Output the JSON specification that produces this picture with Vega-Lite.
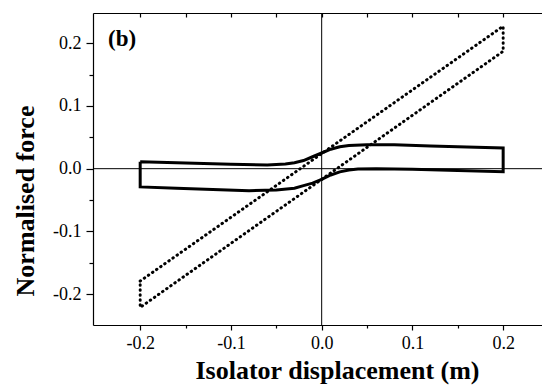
{
  "$schema": "https://vega.github.io/schema/vega-lite/v6.json",
  "width": 449,
  "height": 312,
  "autosize": {"type": "none"},
  "padding": {"left": 93, "top": 13, "right": 0, "bottom": 67},
  "background": "white",
  "config": {
    "view": {"stroke": null},
    "axis": {
      "domainColor": "black",
      "tickColor": "black",
      "labelColor": "black",
      "titleColor": "black",
      "labelFont": "Liberation Serif",
      "titleFont": "Liberation Serif",
      "labelFontSize": 18,
      "titleFontSize": 26,
      "titleFontWeight": "bold",
      "grid": false,
      "domainWidth": 1.2,
      "tickWidth": 1.2
    }
  },
  "datasets": {
    "one": [{"k": 1}],
    "solid": [
      {"i": 1, "x": -0.2, "y": 0.011},
      {"i": 2, "x": -0.15, "y": 0.009},
      {"i": 3, "x": -0.1, "y": 0.007},
      {"i": 4, "x": -0.06, "y": 0.006},
      {"i": 5, "x": -0.04, "y": 0.0075},
      {"i": 6, "x": -0.03, "y": 0.0095},
      {"i": 7, "x": -0.02, "y": 0.013},
      {"i": 8, "x": -0.01, "y": 0.019},
      {"i": 9, "x": 0.0, "y": 0.025},
      {"i": 10, "x": 0.01, "y": 0.031},
      {"i": 11, "x": 0.02, "y": 0.035},
      {"i": 12, "x": 0.03, "y": 0.037},
      {"i": 13, "x": 0.05, "y": 0.038},
      {"i": 14, "x": 0.08, "y": 0.038},
      {"i": 15, "x": 0.12, "y": 0.036},
      {"i": 16, "x": 0.16, "y": 0.0345},
      {"i": 17, "x": 0.2, "y": 0.033},
      {"i": 18, "x": 0.2, "y": -0.005},
      {"i": 19, "x": 0.15, "y": -0.003},
      {"i": 20, "x": 0.1, "y": -0.001},
      {"i": 21, "x": 0.06, "y": 0.0},
      {"i": 22, "x": 0.04, "y": -0.0005},
      {"i": 23, "x": 0.03, "y": -0.002},
      {"i": 24, "x": 0.02, "y": -0.005},
      {"i": 25, "x": 0.01, "y": -0.01},
      {"i": 26, "x": 0.0, "y": -0.017},
      {"i": 27, "x": -0.01, "y": -0.023},
      {"i": 28, "x": -0.02, "y": -0.027},
      {"i": 29, "x": -0.03, "y": -0.031},
      {"i": 30, "x": -0.05, "y": -0.034},
      {"i": 31, "x": -0.08, "y": -0.035},
      {"i": 32, "x": -0.12, "y": -0.033},
      {"i": 33, "x": -0.16, "y": -0.031},
      {"i": 34, "x": -0.2, "y": -0.029},
      {"i": 35, "x": -0.2, "y": 0.011}
    ],
    "dotted": [
      {"i": 1, "x": -0.2, "y": -0.179},
      {"i": 2, "x": 0.2, "y": 0.227},
      {"i": 3, "x": 0.2, "y": 0.187},
      {"i": 4, "x": -0.2, "y": -0.221},
      {"i": 5, "x": -0.2, "y": -0.179}
    ]
  },
  "layer": [
    {
      "data": {"name": "one"},
      "mark": {"type": "rule", "color": "black", "strokeWidth": 1},
      "encoding": {
        "x": {
          "datum": 0,
          "type": "quantitative",
          "scale": {"domain": [-0.252, 0.2428], "nice": false, "zero": false},
          "axis": {
            "orient": "top",
            "values": [-0.2, -0.15, -0.1, -0.05, 0, 0.05, 0.1, 0.15, 0.2],
            "labels": false,
            "tickSize": -4,
            "title": null
          }
        }
      }
    },
    {
      "data": {"name": "one"},
      "mark": {"type": "rule", "color": "black", "strokeWidth": 1},
      "encoding": {
        "y": {
          "datum": 0,
          "type": "quantitative",
          "scale": {"domain": [-0.249, 0.248], "nice": false, "zero": false},
          "axis": null
        }
      }
    },
    {
      "data": {"name": "dotted"},
      "mark": {"type": "line", "color": "black", "strokeWidth": 3, "strokeDash": [0.5, 4.5], "strokeCap": "round"},
      "encoding": {
        "x": {
          "field": "x",
          "type": "quantitative",
          "axis": {
            "orient": "bottom",
            "values": [-0.15, -0.05, 0.05, 0.15],
            "labels": false,
            "domain": false,
            "tickSize": 3,
            "title": null
          }
        },
        "y": {
          "field": "y",
          "type": "quantitative",
          "axis": {
            "orient": "left",
            "values": [-0.15, -0.05, 0.05, 0.15],
            "labels": false,
            "domain": false,
            "tickSize": 4,
            "title": null
          }
        },
        "order": {"field": "i", "type": "quantitative"}
      }
    },
    {
      "data": {"name": "solid"},
      "mark": {"type": "line", "color": "black", "strokeWidth": 3},
      "encoding": {
        "x": {
          "field": "x",
          "type": "quantitative",
          "axis": {
            "orient": "bottom",
            "values": [-0.2, -0.1, 0, 0.1, 0.2],
            "labelExpr": "replace(format(datum.value, '.1f'), '\u2212', '-')",
            "tickSize": 5,
            "labelPadding": 4.5,
            "labelFlush": false,
            "title": "Isolator displacement (m)",
            "titleX": 244,
            "titleY": 53,
            "titleAlign": "center",
            "titleBaseline": "alphabetic"
          }
        },
        "y": {
          "field": "y",
          "type": "quantitative",
          "axis": {
            "orient": "left",
            "values": [-0.2, -0.1, 0, 0.1, 0.2],
            "labelExpr": "replace(format(datum.value, '.1f'), '\u2212', '-')",
            "tickSize": 7,
            "labelPadding": 5,
            "labelFlush": false,
            "title": "Normalised force",
            "titleAngle": 270,
            "titleX": -60,
            "titleY": 187.5,
            "titleAlign": "center",
            "titleBaseline": "alphabetic"
          }
        },
        "order": {"field": "i", "type": "quantitative"}
      }
    },
    {
      "data": {"name": "one"},
      "mark": {"type": "text", "text": "(b)", "font": "Liberation Serif", "fontWeight": "bold", "fontSize": 23, "align": "left", "baseline": "alphabetic", "color": "black"},
      "encoding": {
        "x": {"datum": -0.2355, "type": "quantitative", "axis": null},
        "y": {"datum": 0.195, "type": "quantitative", "axis": null}
      }
    }
  ],
  "resolve": {"axis": {"x": "independent", "y": "independent"}}
}
